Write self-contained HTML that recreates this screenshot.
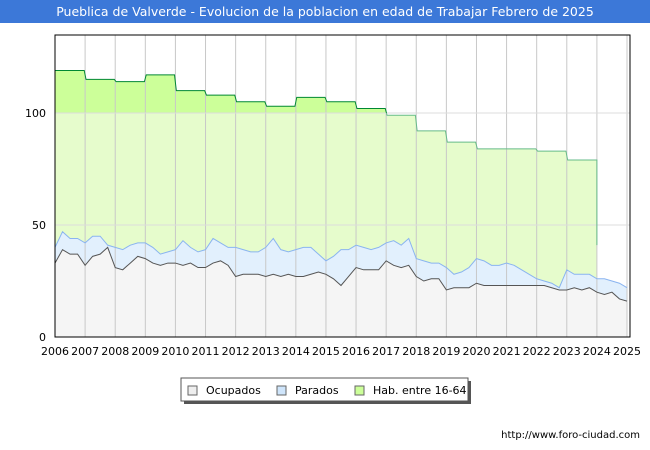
<!DOCTYPE html>
<html><head><meta charset="utf-8"><style>
body{margin:0;background:#fff;font-family:"DejaVu Sans","Liberation Sans",sans-serif;}
</style></head><body>
<svg id="c" width="650" height="450" xmlns="http://www.w3.org/2000/svg" style="display:block">
<defs>
<clipPath id="above"><rect x="55" y="35" width="575" height="78"/></clipPath>
<clipPath id="below"><rect x="55" y="113" width="575" height="224"/></clipPath>
</defs>
<rect x="0" y="0" width="650" height="450" fill="#fff"/>
<rect x="0" y="0" width="650" height="23" fill="#3c78d8"/>
<text x="325" y="16" text-anchor="middle" font-size="12.5" fill="#fff">Pueblica de Valverde - Evolucion de la poblacion en edad de Trabajar Febrero de 2025</text>
<rect x="55" y="35" width="575" height="302" fill="#fff"/>
<g id="series"></g>
<g id="grid"></g>
<g id="lines"></g>
<rect x="55" y="35" width="575" height="302" fill="none" stroke="#000" stroke-width="1"/>
<g id="axes"></g>
<g>
<rect x="184" y="381" width="287" height="23" fill="#555"/>
<rect x="181" y="378" width="287" height="23" fill="#fff" stroke="#555"/>
<g><rect x="188" y="386" width="9" height="9" fill="#eee" stroke="#666"/><text x="206" y="394" font-size="11">Ocupados</text></g>
<g><rect x="277" y="386" width="9" height="9" fill="#cfe5fb" stroke="#666"/><text x="295" y="394" font-size="11">Parados</text></g>
<g><rect x="355" y="386" width="9" height="9" fill="#ccff99" stroke="#666"/><text x="373" y="394" font-size="11">Hab. entre 16-64</text></g>
</g>
<text x="640" y="438" text-anchor="end" font-size="10" fill="#000">http://www.foro-ciudad.com</text>
</svg>
<script>
const years=[2006,2007,2008,2009,2010,2011,2012,2013,2014,2015,2016,2017,2018,2019,2020,2021,2022,2023,2024,2025];
const yTicks=[0,50,100];
const habAnual=[119,115,114,117,110,108,105,103,107,105,102,99,92,87,84,84,83,79];
const habFinal=41;
const ocupados=[33,39,37,37,32,36,37,40,31,30,33,36,35,33,32,33,33,32,33,31,31,33,34,32,27,28,28,28,27,28,27,28,27,27,28,29,28,26,23,27,31,30,30,30,34,32,31,32,27,25,26,26,21,22,22,22,24,23,23,23,23,23,23,23,23,23,22,21,21,22,21,22,20,19,20,17,16];
const parados=[40,47,44,44,42,45,45,41,40,39,41,42,42,40,37,38,39,43,40,38,39,44,42,40,40,39,38,38,40,44,39,38,39,40,40,37,34,36,39,39,41,40,39,40,42,43,41,44,35,34,33,33,31,28,29,31,35,34,32,32,33,32,30,28,26,25,24,22,30,28,28,28,26,26,25,24,22];
const NS="http://www.w3.org/2000/svg";
const X0=55,X1=627,Y0=337,S=2.24;
const xs=t=>X0+(t-2006)*(X1-X0)/19;
const ys=v=>Y0-v*S;
function mk(tag,attrs,parent){const e=document.createElementNS(NS,tag);for(const k in attrs)e.setAttribute(k,attrs[k]);parent.appendChild(e);return e;}
const grid=document.getElementById('grid'),ser=document.getElementById('series'),lines=document.getElementById('lines'),ax=document.getElementById('axes');
years.forEach(y=>{const l=mk('line',{x1:xs(y),x2:xs(y),y1:35,y2:337,stroke:'#c8c8c8'},grid);


const t=mk('text',{x:xs(y),y:355,'text-anchor':'middle','font-size':'11'},ax);t.textContent=y;

});
yTicks.forEach(v=>{if(v>0){const l=mk('line',{x1:55,x2:630,y1:ys(v),y2:ys(v),stroke:'#dcdcdc'},grid);

}
const t=mk('text',{x:46,y:ys(v)+4,'text-anchor':'end','font-size':'11'},ax);t.textContent=v;

});
let hp=[];habAnual.forEach((v,i)=>{const y0=2006+i;hp.push([xs(y0+(i==0?0:0.03)),ys(v)]);hp.push([xs(y0+(i==habAnual.length-1?1:0.97)),ys(v)]);});
hp.push([xs(2024),ys(habFinal)]);
const hl='M'+hp.map(p=>p.join(',')).join(' L');
const ha=hl+` L${xs(2024)},${Y0} L${X0},${Y0} Z`;
let a=mk('path',{d:ha,fill:'#e6fccc'},ser);


a=mk('path',{d:ha,fill:'#ccff99','clip-path':'url(#above)'},ser);


const qx=i=>xs(2006+i/4);
const pl=arr=>arr.map((v,i)=>qx(i)+','+ys(v)).join(' L');
a=mk('path',{d:'M'+pl(parados)+` L${qx(parados.length-1)},${Y0} L${X0},${Y0} Z`,fill:'#e2f0fd'},ser);


a=mk('path',{d:'M'+pl(ocupados)+` L${qx(ocupados.length-1)},${Y0} L${X0},${Y0} Z`,fill:'#f5f5f5'},ser);


a=mk('path',{d:'M'+pl(parados),fill:'none',stroke:'#8ab4f0','stroke-width':1},lines);


a=mk('path',{d:'M'+pl(ocupados),fill:'none',stroke:'#555','stroke-width':1},lines);


a=mk('path',{d:hl,fill:'none',stroke:'#008833','stroke-width':1,'clip-path':'url(#above)'},lines);


a=mk('path',{d:hl,fill:'none',stroke:'#66bb88','stroke-width':1,'clip-path':'url(#below)'},lines);


</script>
</body></html>
